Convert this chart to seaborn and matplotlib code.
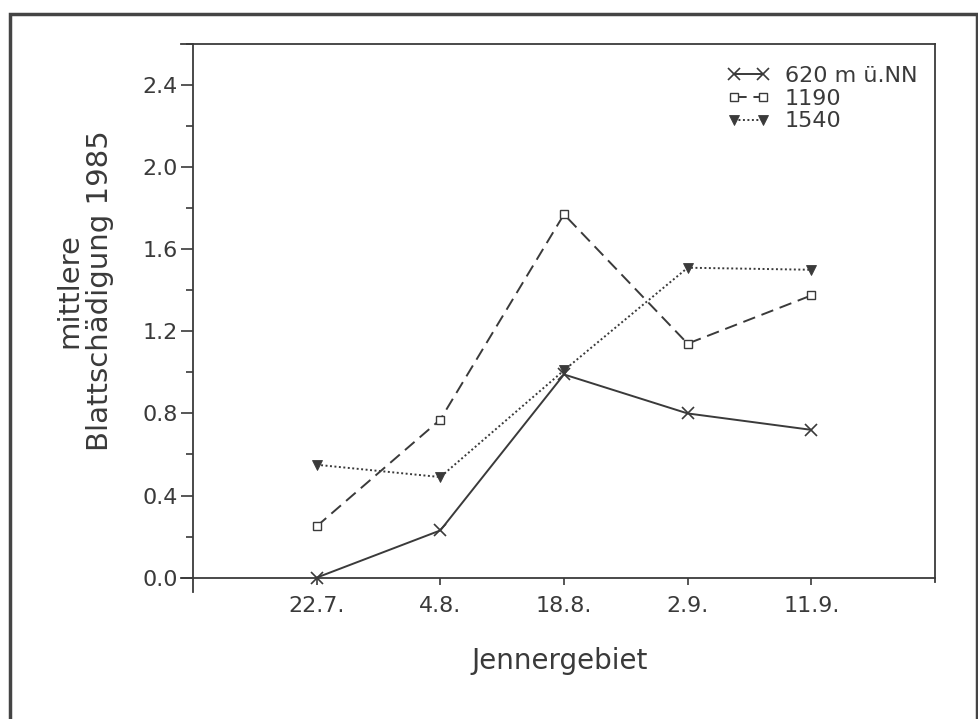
import matplotlib
matplotlib.use("Agg")
import matplotlib.pyplot as plt
import seaborn as sns
import pandas as pd
from matplotlib.ticker import MultipleLocator
from matplotlib.patches import Rectangle

# ---- data ----
dates = ["22.7.", "4.8.", "18.8.", "2.9.", "11.9."]
s620 = [0.0, 0.23, 0.99, 0.80, 0.72]
s1190 = [0.25, 0.77, 1.77, 1.14, 1.375]
s1540 = [0.55, 0.49, 1.01, 1.51, 1.50]
labels = ["620 m ü.NN", "1190", "1540"]
yticks = [0.0, 0.4, 0.8, 1.2, 1.6, 2.0, 2.4]
ytick_labels = ["0.0", "0.4", "0.8", "1.2", "1.6", "2.0", "2.4"]
xlabel = "Jennergebiet"
ylabel = "mittlere\nBlattschädigung 1985"

sns.set_style("ticks")
plt.rcParams["font.family"] = ["DejaVu Sans"]
ink = "#3a3a3a"

df = pd.DataFrame({
    "Datum": dates * 3,
    "Wert": s620 + s1190 + s1540,
    "Höhe": [labels[0]] * 5 + [labels[1]] * 5 + [labels[2]] * 5,
})

W, H = 979, 719
fig = plt.figure(figsize=(W / 100, H / 100), dpi=100)
fig.patch.set_facecolor("white")
ax_l, ax_r, ax_t, ax_b = 180.6, 935, 44, 592
ax = fig.add_axes([ax_l / W, 1 - ax_b / H, (ax_r - ax_l) / W, (ax_b - ax_t) / H])

styles = [
    dict(marker="x", ls="-", ms=8, mew=1.2, mfc=ink, mec=ink),
    dict(marker="s", ls=(0, (6.5, 3.5)), ms=6, mew=1.0, mfc="white", mec=ink),
    dict(marker="v", ls=(0, (1.0, 1.3)), ms=7, mew=0.6, mfc=ink, mec=ink),
]
for lab, st in zip(labels, styles):
    sns.lineplot(data=df[df["Höhe"] == lab], x="Datum", y="Wert", ax=ax,
                 color=ink, lw=1.4, label=lab, sort=False, **st)

ax.set_xlim(-1.1, 5.0)
ax.set_ylim(-0.07, 2.6)

# spines
for s in ax.spines.values():
    s.set_color(ink)
    s.set_linewidth(1.3)
ax.spines["left"].set_position(("data", -1.0))
ax.spines["bottom"].set_position(("data", 0.0))
ax.spines["right"].set_bounds(-0.02, 2.6)

ax.set_yticks(yticks)
ax.set_yticklabels(ytick_labels)
ax.yaxis.set_minor_locator(MultipleLocator(0.2))
ax.tick_params(axis="y", which="major", direction="out", length=9, width=1.2,
               colors=ink, labelsize=16, pad=2)
ax.tick_params(axis="y", which="minor", direction="out", length=5, width=1.2, colors=ink)
ax.tick_params(axis="x", which="major", direction="out", length=5, width=1.2,
               colors=ink, labelsize=16, pad=8)

ax.set_xlabel(xlabel, fontsize=20, color=ink)
ax.set_ylabel(ylabel, fontsize=21, color=ink, linespacing=1.15)
ax.xaxis.set_label_coords(0.503, -0.1)
ax.yaxis.set_label_coords(-0.088, 0.55)

leg = ax.legend(loc="upper left", bbox_to_anchor=(716 / W, 1 - 55 / H),
                bbox_transform=fig.transFigure, frameon=False, numpoints=2,
                handlelength=1.9, handletextpad=0.7, labelspacing=0.12,
                borderpad=0, fontsize=16)
for t in leg.get_texts():
    t.set_color(ink)

# outer frame of the page
fig.add_artist(Rectangle((10 / W, -0.02), (977 - 10) / W, (1 - 14 / H) + 0.02,
                         transform=fig.transFigure, fill=False, lw=2.5, ec="#444444"))

fig.savefig("out.png", dpi=100)
